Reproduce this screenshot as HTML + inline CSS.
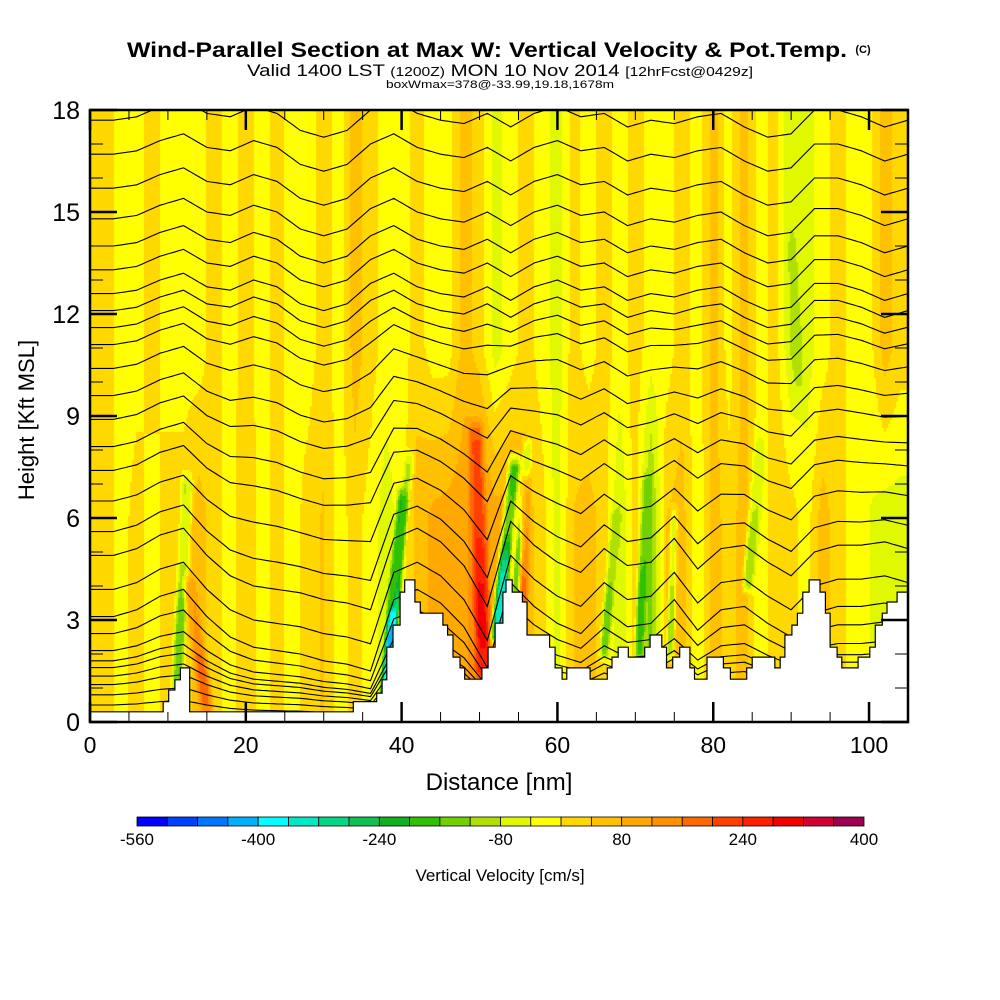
<!DOCTYPE html>
<html><head><meta charset="utf-8">
<style>
html,body{margin:0;padding:0;background:#fff;}
#wrap{position:relative;width:1000px;height:1000px;overflow:hidden;font-family:"Liberation Sans",sans-serif;}
#field{position:absolute;left:90px;top:110px;}
#ov{position:absolute;left:0;top:0;}
</style></head>
<body>
<div id="wrap">
<canvas id="field" width="818" height="612"></canvas>
<svg id="ov" width="1000" height="1000" xmlns="http://www.w3.org/2000/svg">
<g id="contours"></g>
<path id="terrain" fill="#fff" stroke="#000" stroke-width="1.2"/>
<g id="axes"></g>
<rect x="90" y="110" width="818" height="612" fill="none" stroke="#000" stroke-width="2.5"/>
<text x="127" y="57" text-anchor="start" font-size="21" font-weight="bold" textLength="720" lengthAdjust="spacingAndGlyphs">Wind-Parallel Section at Max W: Vertical Velocity &amp; Pot.Temp.</text>
<text x="863" y="53" text-anchor="middle" font-size="11" font-weight="bold">(C)</text>
<text x="500" y="76" text-anchor="middle" font-size="17" textLength="506" lengthAdjust="spacingAndGlyphs">Valid 1400 LST <tspan font-size="13">(1200Z)</tspan> MON 10 Nov 2014 <tspan font-size="13">[12hrFcst@0429z]</tspan></text>
<text x="500" y="88" text-anchor="middle" font-size="11" textLength="228" lengthAdjust="spacingAndGlyphs">boxWmax=378@-33.99,19.18,1678m</text>
<text x="499" y="790" text-anchor="middle" font-size="24">Distance [nm]</text>
<text transform="translate(34,420) rotate(-90)" text-anchor="middle" font-size="22">Height [Kft MSL]</text>
<g id="cbar"></g>
<text x="500" y="881" text-anchor="middle" font-size="17">Vertical Velocity [cm/s]</text>
</svg>
</div>
<script>
// ---- data ----
const binColors = ["#0000ff","#0040ff","#0078ff","#00b0ff","#00ffff","#00e8c8","#00d888","#10c050","#10b020","#30c000","#70d000","#b0e000","#e0f800","#ffff00","#ffd800","#ffc000","#ffa800","#ff9000","#ff6800","#ff4000","#ff2000","#f00000","#d00030","#a00050"];
const cbarLabels = [-560,-400,-240,-80,80,240,400];
const colX = [0,2,4,6,8,10,12,14,16,18,20,22,24,26,28,30,32,34,36,38,40,42,44,46,48,50,52,54,56,58,60,62,64,66,68,70,72,74,76,78,80,82,84,86,88,90,92,94,96,98,100,102,104];
const wLow = [20,20,-20,20,-20,20,20,60,20,-20,40,-20,20,-20,20,45,-20,20,-20,-60,-20,60,90,100,110,150,100,100,60,20,-60,40,60,20,-80,20,-140,40,60,-40,60,20,60,-40,40,20,-20,60,20,-20,-40,-60,-60];
const wHigh = [20,20,-20,-20,20,-20,-20,-20,20,-20,20,-20,20,-20,-20,20,-20,60,20,-20,-20,20,-20,-20,60,20,-60,-20,20,-20,-60,20,-20,20,-20,20,-20,-20,20,-20,60,-20,60,-20,20,-80,-60,-20,20,-20,-20,60,20];
// streaks: [xBottom, hBottom, xTop, hTop, value, halfWidth]
const streaks = [
 [11.2,1.0,12.5,7.0,-160,0.6],
 [15.0,0.4,12.8,4.0,180,0.7],
 [38.0,0.8,40.2,6.5,-420,0.6],
 [38.6,3.5,41.0,7.6,-160,0.5],
 [48.5,1.5,48.0,5.0,120,1.0],
 [50.5,1.5,49.5,8.5,290,0.8],
 [52.3,2.5,54.5,7.5,-360,0.7],
 [54.5,3.5,56.2,8.0,-160,0.5],
 [55.5,2.0,56.0,7.0,180,0.5],
 [66.0,2.0,67.5,6.0,-160,0.5],
 [70.5,2.0,71.5,7.0,-200,0.5],
 [74.5,2.0,75.0,6.0,-120,0.4],
 [84.5,4.0,86.0,8.0,-120,0.6],
 [91.0,10.0,90.0,14.0,-100,0.6]
];
const terrX = [0,9.4,10.1,10.9,11.6,12.8,33.8,36.8,37.5,38.1,38.9,39.8,40.4,41.7,42.4,45.3,45.9,46.6,47.5,48.1,50.3,51.1,52.0,53.0,53.4,54.2,55.5,56.1,59.0,59.7,60.6,61.2,64.2,66.4,67.0,67.8,69.1,71.2,71.9,73.4,74.0,74.8,75.7,77.0,77.6,79.2,81.3,82.2,84.3,85.0,87.9,88.6,89.2,90.1,90.8,91.5,92.3,93.7,94.4,95.0,95.9,96.5,98.6,100.1,100.8,101.7,102.3,103.6];
const terrH = [0.3,0.6,0.94,1.24,1.59,0.3,0.6,0.85,1.24,2.2,2.85,3.82,4.18,3.53,3.2,2.85,2.56,1.91,1.59,1.26,1.59,2.2,2.91,3.82,4.18,3.82,3.53,2.56,2.2,1.59,1.26,1.59,1.26,1.59,1.91,2.2,1.91,2.2,2.56,2.2,1.59,1.91,2.2,1.59,1.26,1.91,1.59,1.26,1.59,1.91,1.59,1.91,2.56,2.85,3.2,3.82,4.18,3.82,3.2,2.2,1.91,1.59,1.91,2.2,2.85,3.2,3.53,3.82];
const thetaLevels = [0.5,0.8,1.1,1.35,1.6,1.8,2.1,2.6,3.1,3.9,4.9,5.6,6.5,7.4,8.1,8.9,9.6,10.4,11.1,11.6,12.1,12.6,13.3,14.0,14.8,15.7,16.7,17.7];
const dispX = [0,3,6,9,12,15,18,21,24,27,30,33,36,39,42,45,48,51,54,57,60,63,66,69,72,75,78,81,84,87,90,93,96,99,102,105];
const dispUp = [0,0,0.1,0.4,0.6,0.2,0.1,0.4,0.2,-0.3,-0.5,-0.3,0.3,0.6,0.2,0,-0.1,0.2,-0.2,0.2,0.4,0.1,0.2,-0.2,0,-0.1,0.1,0.2,-0.2,-0.5,-0.4,0.3,0.3,0.1,-0.2,0];
const dispLow = [0,0,0.2,0.6,0.8,0,-0.6,-0.9,-1.0,-1.1,-1.3,-1.4,-1.6,0.5,0.8,0.4,-0.3,-1.5,1.0,0.3,-0.2,-0.5,0.2,-0.3,-0.2,0.5,-0.4,0.2,0.3,-0.2,-0.6,0.1,0.3,0.3,0.4,0.2];

// ---- scales ----
const X0=90,X1=908,Y0=722,Y1=110,XMAX=105,YMAX=18;
const sx = v => X0 + v/XMAX*(X1-X0);
const sy = v => Y0 - v/YMAX*(Y0-Y1);
function lerpArr(xs, ys, x){
  if(x<=xs[0]) return ys[0];
  for(let i=1;i<xs.length;i++){ if(x<=xs[i]){const t=(x-xs[i-1])/(xs[i]-xs[i-1]);return ys[i-1]+t*(ys[i]-ys[i-1]);} }
  return ys[ys.length-1];
}
function binColor(v){ let i=Math.floor((v+560)/40); i=Math.max(0,Math.min(binColors.length-1,i)); return binColors[i]; }
const NS="http://www.w3.org/2000/svg";

// ---- field ----
const cv=document.getElementById('field'), ctx=cv.getContext('2d');
const W=818,H=612,cs=2;
for(let py=0;py<H;py+=cs){
  const h = (H-py-cs/2)/H*YMAX;
  const t = Math.max(0,Math.min(1,(h-6)/5));
  for(let px=0;px<W;px+=cs){
    const x=(px+cs/2)/W*XMAX;
    let v = (1-t)*lerpArr(colX,wLow,x) + t*lerpArr(colX,wHigh,x);
    for(const s of streaks){
      if(h<s[1]-0.3||h>s[3]+0.5) continue;
      const f=Math.max(0,Math.min(1,(h-s[1])/(s[3]-s[1])));
      const xc=s[0]+f*(s[2]-s[0]);
      const d=Math.abs(x-xc)/s[5];
      let w = d<0.5?1:(d<1.6?1-(d-0.5)/1.1:0);
      const edge = h<s[1]?1-(s[1]-h)/0.3:(h>s[3]?1-(h-s[3])/0.5:1);
      w*=Math.max(0,edge)*(0.55+0.45*Math.sin(Math.PI*Math.min(1,f*1.3+0.2)));
      v = v + (s[4]-v)*w;
    }
    ctx.fillStyle=binColor(v);
    ctx.fillRect(px,py,cs,cs);
  }
}

// ---- contours ----
const cg=document.getElementById('contours');
thetaLevels.forEach((L,i)=>{
  let d='';
  for(let x=0;x<=XMAX+0.01;x+=0.5){
    const t=Math.max(0,Math.min(1,(L-5)/7));
    const scl=Math.min(1,L/3);
    const dd=(1-t)*lerpArr(dispX,dispLow,x)*scl + t*lerpArr(dispX,dispUp,x);
    const h=L+dd;
    d+=(x===0?'M':'L')+sx(x).toFixed(1)+','+sy(h).toFixed(1);
  }
  const p=document.createElementNS(NS,'path');
  p.setAttribute('d',d);p.setAttribute('fill','none');p.setAttribute('stroke','#000');p.setAttribute('stroke-width','1.1');
  
  
  cg.appendChild(p);
});
const clip=document.createElementNS(NS,'clipPath');clip.setAttribute('id','pc');
const cr=document.createElementNS(NS,'rect');cr.setAttribute('x',X0);cr.setAttribute('y',Y1);cr.setAttribute('width',X1-X0);cr.setAttribute('height',Y0-Y1);
clip.appendChild(cr);document.getElementById('ov').appendChild(clip);
cg.setAttribute('clip-path','url(#pc)');

// ---- terrain (stepped) ----
let td='M'+sx(0)+','+sy(0);
for(let i=0;i<terrX.length;i++){
  const xe = i+1<terrX.length?terrX[i+1]:XMAX;
  td+='L'+sx(terrX[i]).toFixed(1)+','+sy(terrH[i]).toFixed(1)+'L'+sx(xe).toFixed(1)+','+sy(terrH[i]).toFixed(1);
}
td+='L'+sx(XMAX)+','+sy(0)+'Z';
document.getElementById('terrain').setAttribute('d',td);

// ---- axes ----
const ag=document.getElementById('axes');
function line(x1,y1,x2,y2,w,name){const l=document.createElementNS(NS,'line');l.setAttribute('x1',x1);l.setAttribute('y1',y1);l.setAttribute('x2',x2);l.setAttribute('y2',y2);l.setAttribute('stroke','#000');l.setAttribute('stroke-width',w);
  
  
  ag.appendChild(l);}
function text(x,y,s,size,anchor,name,parent){const t=document.createElementNS(NS,'text');t.setAttribute('x',x);t.setAttribute('y',y);t.setAttribute('font-size',size);t.setAttribute('text-anchor',anchor);t.textContent=s;
  
  
  (parent||ag).appendChild(t);}
for(let v=0;v<=XMAX;v+=5){const maj=v%20===0;const L=maj?20:10;
  line(sx(v),Y0,sx(v),Y0-L,maj?2.5:1,'x-tick');line(sx(v),Y1,sx(v),Y1+L,maj?2.5:1,'x-tick-top');
  if(maj) text(sx(v),753,String(v),23,'middle','x-tick-label');}
for(let v=0;v<=YMAX;v++){const maj=v%3===0;const L=maj?27:13;
  line(X0,sy(v),X0+L,sy(v),maj?2.5:1,'y-tick');line(X1,sy(v),X1-L,sy(v),maj?2.5:1,'y-tick-right');
  if(maj) text(80,sy(v)+9,String(v),25,'end','y-tick-label');}

// ---- colorbar ----
const cb=document.getElementById('cbar');
const CB0=137,CB1=864,segW=(CB1-CB0)/binColors.length;
binColors.forEach((c,i)=>{const r=document.createElementNS(NS,'rect');r.setAttribute('x',CB0+i*segW);r.setAttribute('y',817);r.setAttribute('width',segW);r.setAttribute('height',9);r.setAttribute('fill',c);r.setAttribute('stroke','#000');r.setAttribute('stroke-width','0.8');
  
  
  cb.appendChild(r);});
cbarLabels.forEach(v=>{const x=CB0+(v+560)/40*segW;text(x,845,String(v),17,'middle','colorbar-label',cb);});
</script>
</body></html>
